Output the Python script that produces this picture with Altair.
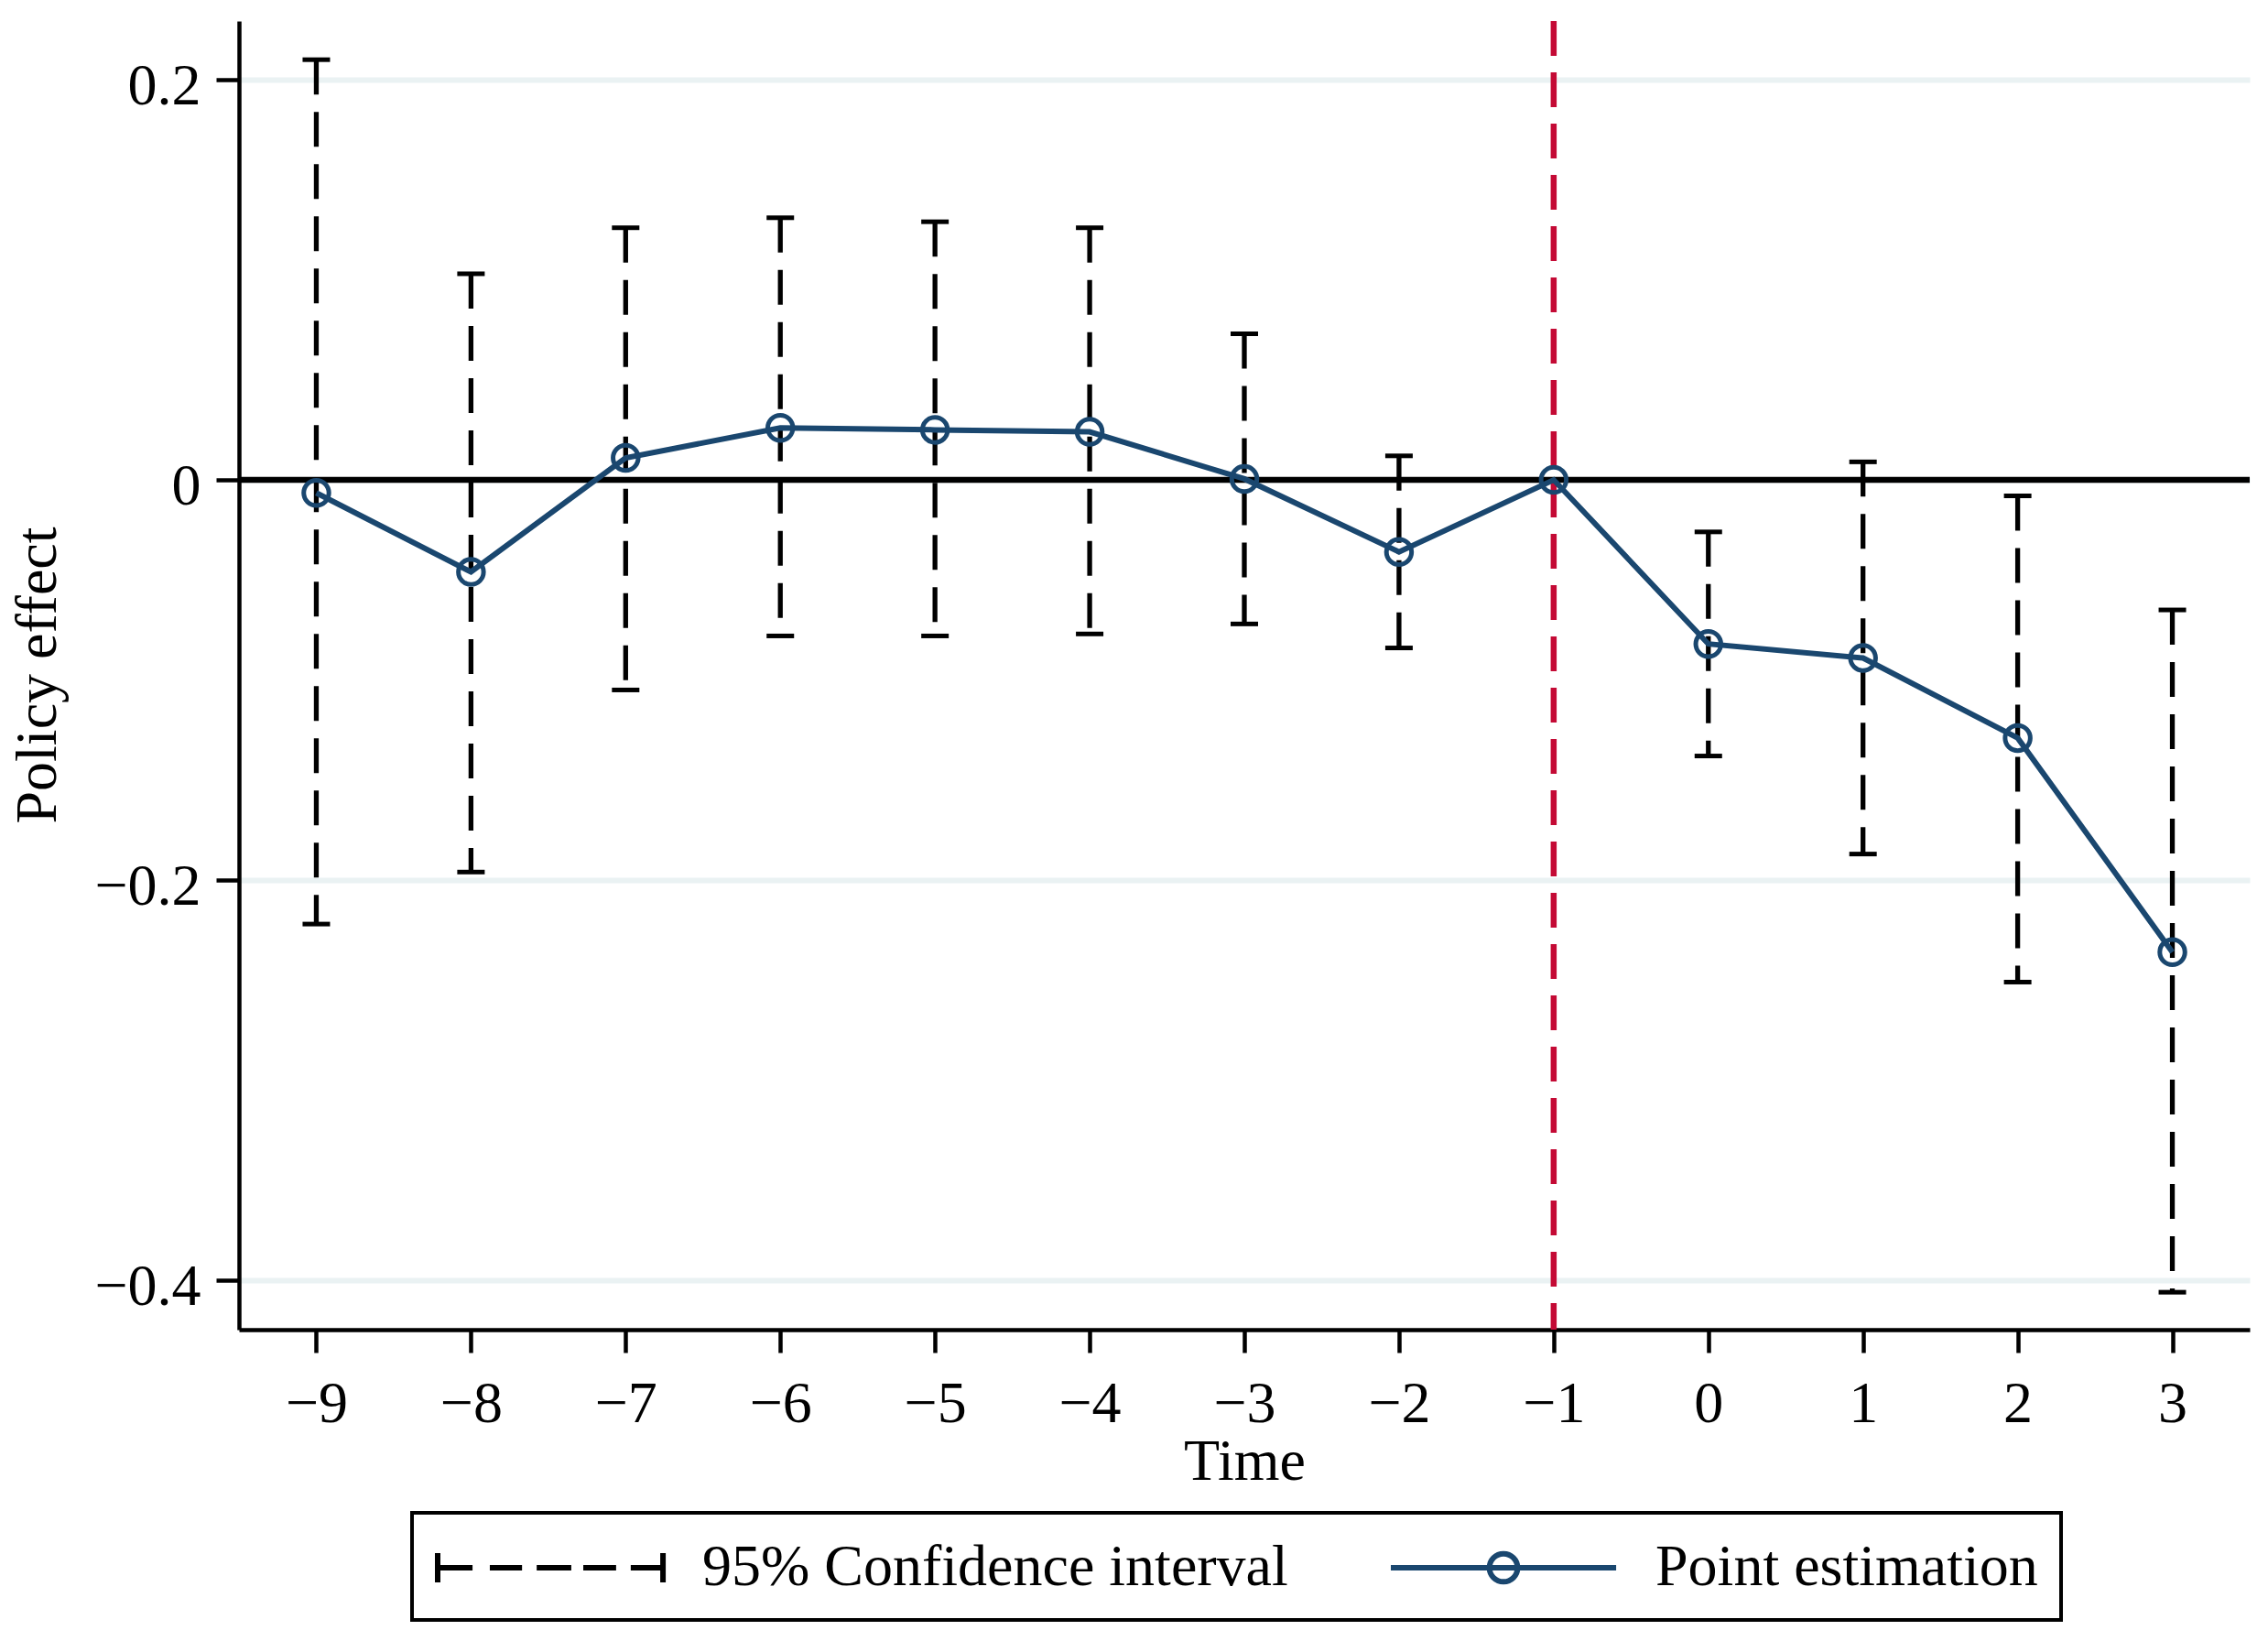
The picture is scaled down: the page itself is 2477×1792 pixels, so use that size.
import altair as alt
import pandas as pd

# ---------------- data ----------------
time = [-9, -8, -7, -6, -5, -4, -3, -2, -1, 0, 1, 2, 3]
estimate = [-0.0065, -0.046, 0.011, 0.026, 0.025, 0.024, 0.0005, -0.036, 0.0, -0.082, -0.089, -0.129, -0.236]
ci_upper = [0.210, 0.103, 0.126, 0.131, 0.129, 0.126, 0.073, 0.012, None, -0.026, 0.009, -0.008, -0.065]
ci_lower = [-0.222, -0.196, -0.105, -0.078, -0.078, -0.077, -0.072, -0.084, None, -0.138, -0.187, -0.251, -0.406]
series_labels = ["95% Confidence interval", "Point estimation"]
x_ticks = [-9, -8, -7, -6, -5, -4, -3, -2, -1, 0, 1, 2, 3]
y_ticks = [-0.4, -0.2, 0, 0.2]
ref_period = [-1]
zero_level = [0]

BLUE = "#1A476F"
RED = "#C40A35"
FONT = "Liberation Serif"

df = pd.DataFrame({"time": time, "estimate": estimate, "upper": ci_upper, "lower": ci_lower})
ci_df = df.dropna(subset=["upper", "lower"])

x_scale = alt.Scale(domain=[-9.5, 3.5], nice=False, zero=False)
y_scale = alt.Scale(domain=[-0.4247, 0.2293], nice=False, zero=False)

x_axis = alt.Axis(
    values=x_ticks, format="d", title="Time", grid=False,
    labelBaseline="alphabetic", labelPadding=75,
    titleY=163, titleBaseline="alphabetic",
)
y_axis = alt.Axis(
    values=y_ticks, format="~g", title="Policy effect", grid=True,
    gridColor="#EAF2F3", gridWidth=6,
    labelBaseline="alphabetic", labelOffset=26, labelPadding=17,
    titleX=-201, titleY=714, titleAngle=270, titleBaseline="alphabetic", titleAlign="center",
)


def xe(field):
    return alt.X(field, scale=x_scale, axis=x_axis)


def ye(field):
    return alt.Y(field, scale=y_scale, axis=y_axis)


# legend symbols (custom paths, unit = sqrt(symbolSize)/2 = 32 px)
ci_path = ("M-1,-0.5L-1,0.5M-1,0L0.19,0M0.78,0L1.88,0M2.38,0L3.56,0"
           "M3.97,0L5.09,0M5.59,0L6.69,0M6.69,-0.5L6.69,0.5")
pt_path = ("M-1,0L6.69,0M2.365,0A0.48,0.48,0,1,1,3.325,0"
           "A0.48,0.48,0,1,1,2.365,0Z")

legend = alt.Legend(
    title=None, orient="none", legendX=189, legendY=1629, direction="horizontal",
    symbolSize=4096, symbolStrokeWidth=6, symbolOpacity=1,
    labelFont=FONT, labelFontSize=64, labelColor="black", labelLimit=3000,
    labelOffset=222, columnPadding=100, padding=25, strokeColor="black",
)

ref_line = alt.Chart(pd.DataFrame({"t": ref_period})).mark_rule(
    color=RED, strokeWidth=6.5, strokeDash=[38, 18]
).encode(x=xe("t:Q"))

zero_line = alt.Chart(pd.DataFrame({"v": zero_level})).mark_rule(
    color="black", strokeWidth=6.5
).encode(y=ye("v:Q"))

ci_rules = alt.Chart(ci_df).mark_rule(
    color="black", strokeWidth=5.3, strokeDash=[38, 19]
).encode(x=xe("time:Q"), y=ye("upper:Q"), y2="lower:Q")

cap_top = alt.Chart(ci_df).mark_tick(
    color="black", orient="horizontal", size=30, thickness=5, opacity=1
).encode(x=xe("time:Q"), y=ye("upper:Q"))

cap_bot = alt.Chart(ci_df).mark_tick(
    color="black", orient="horizontal", size=30, thickness=5, opacity=1
).encode(x=xe("time:Q"), y=ye("lower:Q"))

est_line = alt.Chart(df).mark_line(color=BLUE, strokeWidth=6).encode(
    x=xe("time:Q"), y=ye("estimate:Q")
)

est_pts = alt.Chart(df).mark_point(
    filled=False, shape="circle", size=755, strokeWidth=5, color=BLUE, opacity=1
).encode(x=xe("time:Q"), y=ye("estimate:Q"))

legend_layer = alt.Chart(pd.DataFrame({"series": series_labels})).mark_point(
    filled=False, opacity=0, size=4096
).encode(
    color=alt.Color("series:N", scale=alt.Scale(domain=series_labels, range=["black", BLUE]), legend=legend),
    shape=alt.Shape("series:N", scale=alt.Scale(domain=series_labels, range=[ci_path, pt_path]), legend=legend),
)

chart = alt.layer(
    ref_line, zero_line, ci_rules, cap_top, cap_bot, est_line, est_pts, legend_layer
).properties(
    width=2196, height=1429,
    autosize=alt.AutoSizeParams(type="none"),
    padding={"left": 253, "top": 15, "right": 12, "bottom": 332},
).configure_view(
    stroke="transparent"
).configure_axis(
    domainColor="black", domainWidth=4.5, tickColor="black", tickWidth=4.5, tickSize=25,
    labelFont=FONT, labelFontSize=64, labelColor="black",
    titleFont=FONT, titleFontSize=64, titleColor="black", titleFontWeight="normal",
).configure_legend(
    strokeWidth=4
)

chart.save("out.html", embed_options={"renderer": "svg", "actions": False})
